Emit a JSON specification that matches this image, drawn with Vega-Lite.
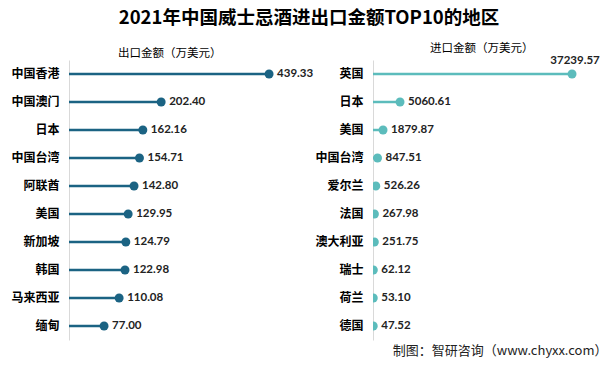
{
  "$schema": "https://vega.github.io/schema/vega-lite/v6.json",
  "padding": {"left": 10, "top": 8, "right": 4, "bottom": 4},
  "background": "white",
  "title": {
    "text": "2021年中国威士忌酒进出口金额TOP10的地区",
    "font": "Noto Sans CJK SC",
    "fontSize": 18.5,
    "fontWeight": "bold",
    "color": "#000000",
    "anchor": "middle",
    "offset": 15.5
  },
  "datasets": {
    "export": [
      {"region": "中国香港", "value": 439.33},
      {"region": "中国澳门", "value": 202.40},
      {"region": "日本", "value": 162.16},
      {"region": "中国台湾", "value": 154.71},
      {"region": "阿联酋", "value": 142.80},
      {"region": "美国", "value": 129.95},
      {"region": "新加坡", "value": 124.79},
      {"region": "韩国", "value": 122.98},
      {"region": "马来西亚", "value": 110.08},
      {"region": "缅甸", "value": 77.00}
    ],
    "import": [
      {"region": "英国", "value": 37239.57},
      {"region": "日本", "value": 5060.61},
      {"region": "美国", "value": 1879.87},
      {"region": "中国台湾", "value": 847.51},
      {"region": "爱尔兰", "value": 526.26},
      {"region": "法国", "value": 267.98},
      {"region": "澳大利亚", "value": 251.75},
      {"region": "瑞士", "value": 62.12},
      {"region": "荷兰", "value": 53.10},
      {"region": "德国", "value": 47.52}
    ]
  },
  "spacing": 0,
  "hconcat": [
    {
      "width": 240,
      "height": 280,
      "data": {"name": "export"},
      "title": {
        "text": "出口金额（万美元）",
        "font": "Noto Sans CJK SC",
        "fontSize": 11.5,
        "fontWeight": "normal",
        "color": "#000000",
        "anchor": "start",
        "dx": 107,
        "offset": 1
      },
      "encoding": {
        "y": {
          "field": "region",
          "type": "nominal",
          "sort": null,
          "scale": {"paddingInner": 0, "paddingOuter": 0},
          "axis": {
            "title": null,
            "ticks": false,
            "domainColor": "#D9D9D9",
            "domainWidth": 1,
            "labelFont": "Noto Sans CJK SC",
            "labelFontSize": 12,
            "labelFontWeight": "bold",
            "labelColor": "#000000",
            "labelPadding": 10
          }
        },
        "x": {
          "field": "value",
          "type": "quantitative",
          "scale": {"domain": [0, 527], "nice": false, "zero": true},
          "axis": null
        }
      },
      "layer": [
        {
          "mark": {"type": "rule", "color": "#1B6383", "strokeWidth": 2.5},
          "encoding": {
            "x2": {"datum": 0}
          }
        },
        {
          "mark": {"type": "circle", "color": "#1B6383", "size": 80, "opacity": 1},
          "encoding": {}
        },
        {
          "mark": {"type": "text", "align": "left", "dx": 8, "font": "Lato", "fontSize": 11.5, "fontWeight": "bold", "color": "#222222"},
          "encoding": {
            "text": {"field": "value", "type": "quantitative", "format": ".2f"}
          }
        }
      ]
    },
    {
      "width": 225,
      "height": 280,
      "data": {"name": "import"},
      "title": {
        "text": "进口金额（万美元）",
        "font": "Noto Sans CJK SC",
        "fontSize": 11.5,
        "fontWeight": "normal",
        "color": "#000000",
        "anchor": "start",
        "dx": 115,
        "offset": 1
      },
      "encoding": {
        "y": {
          "field": "region",
          "type": "nominal",
          "sort": null,
          "scale": {"paddingInner": 0, "paddingOuter": 0},
          "axis": {
            "title": null,
            "ticks": false,
            "domainColor": "#D9D9D9",
            "domainWidth": 1,
            "labelFont": "Noto Sans CJK SC",
            "labelFontSize": 12,
            "labelFontWeight": "bold",
            "labelColor": "#000000",
            "labelPadding": 10
          }
        },
        "x": {
          "field": "value",
          "type": "quantitative",
          "scale": {"domain": [0, 42100], "nice": false, "zero": true},
          "axis": {
            "labels": false,
            "ticks": false,
            "domain": false,
            "grid": false,
            "title": "制图：智研咨询（www.chyxx.com）",
            "titleFont": "Noto Sans CJK SC",
            "titleFontSize": 13,
            "titleFontWeight": "normal",
            "titleColor": "#222222",
            "titleAnchor": "end",
            "titleAlign": "right",
            "titlePadding": 4,
            "titleX": 234
          }
        }
      },
      "layer": [
        {
          "mark": {"type": "rule", "color": "#5CBCBC", "strokeWidth": 2.5},
          "encoding": {
            "x2": {"datum": 0}
          }
        },
        {
          "mark": {"type": "circle", "color": "#5CBCBC", "size": 80, "opacity": 1, "clip": true},
          "encoding": {}
        },
        {
          "transform": [{"filter": "datum.value < 30000"}],
          "mark": {"type": "text", "align": "left", "dx": 8, "font": "Lato", "fontSize": 11.5, "fontWeight": "bold", "color": "#222222"},
          "encoding": {
            "text": {"field": "value", "type": "quantitative", "format": ".2f"}
          }
        },
        {
          "transform": [{"filter": "datum.value >= 30000"}],
          "mark": {"type": "text", "align": "center", "dx": 3, "dy": -13, "font": "Lato", "fontSize": 11.5, "fontWeight": "bold", "color": "#222222"},
          "encoding": {
            "text": {"field": "value", "type": "quantitative", "format": ".2f"}
          }
        }
      ]
    }
  ],
  "config": {"view": {"stroke": null}}
}
